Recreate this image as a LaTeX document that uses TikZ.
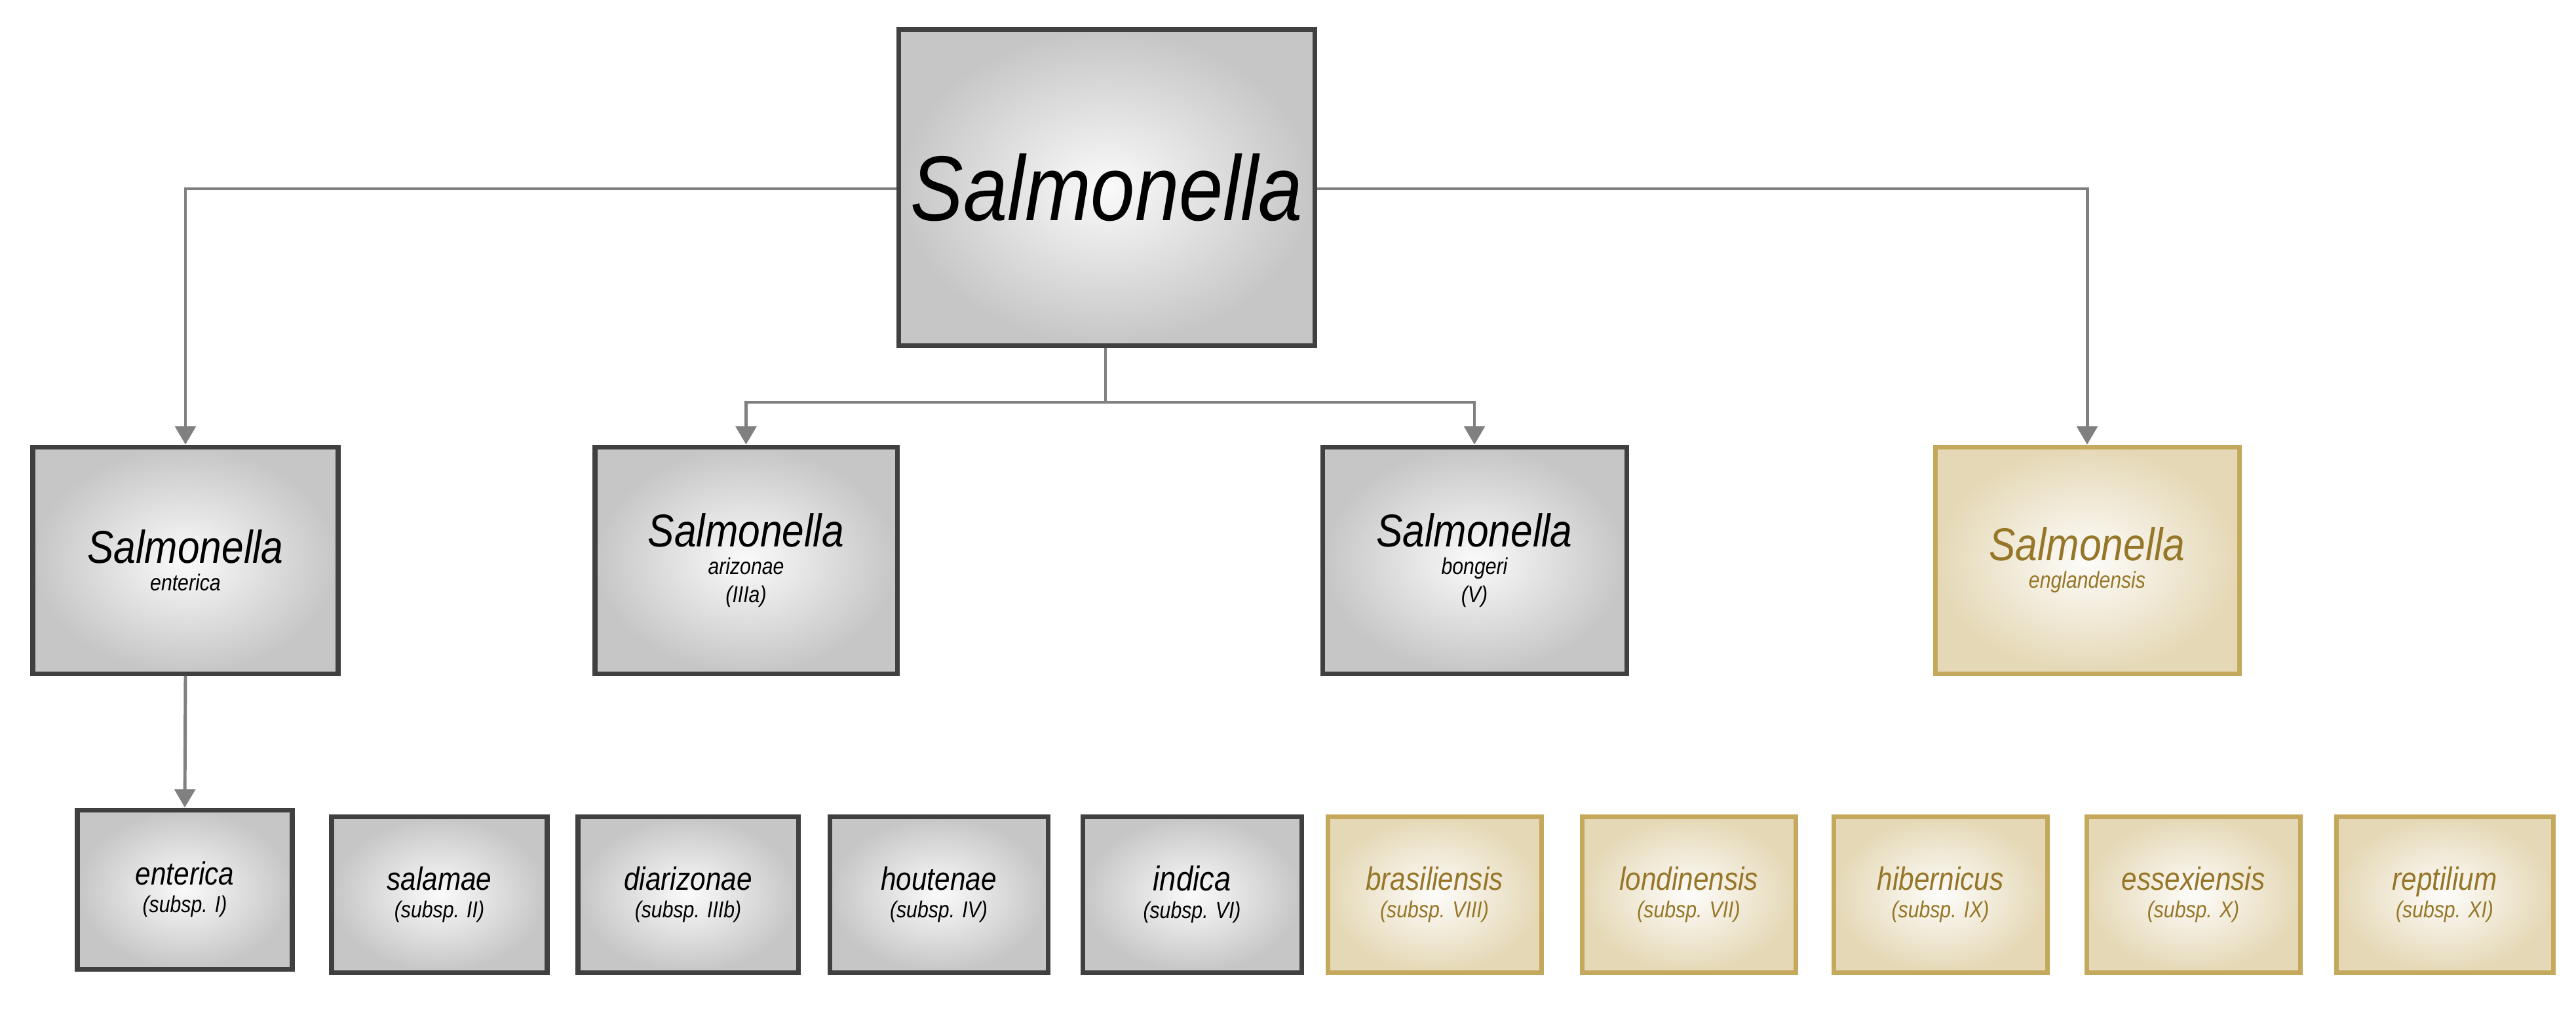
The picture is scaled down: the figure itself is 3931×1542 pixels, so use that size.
\documentclass[tikz,border=0pt]{standalone}
\usepackage{fontspec}
\setmainfont{Liberation Sans}[FakeStretch=0.86]
\usetikzlibrary{arrows.meta}
\definecolor{gold}{RGB}{196,168,92}
\definecolor{goldtext}{RGB}{150,118,40}
\definecolor{conn}{RGB}{128,128,128}
\begin{document}
\begin{tikzpicture}[x=0.1mm,y=-0.1mm,
  gbox/.style={draw=black!75,line width=2pt,inner color=gray!4,outer color=gray!45,align=center,inner sep=0pt,font=\itshape},
  ybox/.style={draw=gold,line width=2pt,inner color=white!97!gold,outer color=gold!45,align=center,inner sep=0pt,text=goldtext,font=\itshape},
  conn/.style={draw=conn,line width=1.4pt},
  arr/.style={conn,-{Triangle[length=8pt,width=9pt]}}]
\useasboundingbox (0,0) rectangle (3931,1542);
\newcommand\bx[6]{\node[#1,minimum width={(#4-#3)*0.1mm},minimum height={(#6-#5)*0.1mm}] (#2) at ({(#3+#4)/2},{(#5+#6)/2})}
\bx{gbox}{root}{1371}{2006}{45}{527}{\fontsize{40}{48}\selectfont Salmonella};
\bx{gbox}{ent}{50}{516}{682}{1028}{\fontsize{20}{28}\selectfont Salmonella\\enterica};
\bx{gbox}{ari}{908}{1369}{682}{1028}{\fontsize{20}{28}\selectfont Salmonella\\arizonae\\(IIIa)};
\bx{gbox}{bon}{2018}{2482}{682}{1028}{\fontsize{20}{28}\selectfont Salmonella\\bongeri\\(V)};
\bx{ybox}{eng}{2953}{3417}{682}{1028}{\fontsize{20}{28}\selectfont Salmonella\\englandensis};
\bx{gbox}{s1}{118}{446}{1236}{1479}{\fontsize{14}{22}\selectfont enterica\\(subsp. I)};
\bx{gbox}{s2}{506}{835}{1246}{1484}{\fontsize{14}{22}\selectfont salamae\\(subsp. II)};
\bx{gbox}{s3}{882}{1218}{1246}{1484}{\fontsize{14}{22}\selectfont diarizonae\\(subsp. IIIb)};
\bx{gbox}{s4}{1266}{1599}{1246}{1484}{\fontsize{14}{22}\selectfont houtenae\\(subsp. IV)};
\bx{gbox}{s5}{1652}{1986}{1246}{1484}{\fontsize{15}{23}\selectfont indica\\(subsp. VI)};
\bx{ybox}{s6}{2026}{2352}{1246}{1484}{\fontsize{14}{22}\selectfont brasiliensis\\(subsp. VIII)};
\bx{ybox}{s7}{2414}{2740}{1246}{1484}{\fontsize{14}{22}\selectfont londinensis\\(subsp. VII)};
\bx{ybox}{s8}{2798}{3124}{1246}{1484}{\fontsize{14}{22}\selectfont hibernicus\\(subsp. IX)};
\bx{ybox}{s9}{3184}{3510}{1246}{1484}{\fontsize{14}{22}\selectfont essexiensis\\(subsp. X)};
\bx{ybox}{s10}{3565}{3896}{1246}{1484}{\fontsize{14}{22}\selectfont reptilium\\(subsp. XI)};
\coordinate (j) at (1687,614);
\draw[arr] (root.west |- 0,288) -| (ent.north);
\draw[arr] (root.east |- 0,288) -| (eng.north);
\draw[conn] (root.south -| j) -- (j);
\draw[arr] (j) -| (ari.north);
\draw[arr] (j) -| (bon.north);
\draw[arr] (ent.south) -- (s1.north);
\end{tikzpicture}
\end{document}
